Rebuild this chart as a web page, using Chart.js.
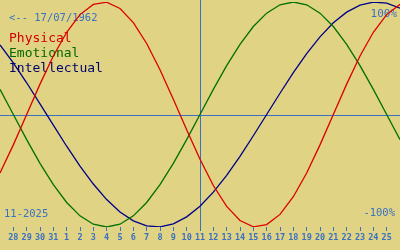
<!DOCTYPE html>
<html>
<head>
<meta charset="utf-8">
<script src="https://cdn.jsdelivr.net/npm/chart.js@4/dist/chart.umd.min.js"></script>
<style>
  html, body { margin: 0; padding: 0; background: #e0d384; }
  canvas { display: block; }
</style>
</head>
<body>
<canvas id="bio" width="400" height="250"></canvas>
<script>
  // dias desde el 27/10/2025 hasta el 26/11/2025
  let dias = [0,1,2,3,4,5,6,7,8,9,10,11,12,13,14,15,16,17,18,19,20,21,22,23,24,25,26,27,28,29,30];
  let fisico = [-0.520,-0.270,0,0.270,0.520,0.731,0.888,0.979,0.998,0.942,0.817,0.631,0.398,0.136,-0.136,-0.398,
    -0.631,-0.817,-0.942,-0.998,-0.979,-0.888,-0.731,-0.520,-0.270,0,0.270,0.520,0.731,0.888,0.979];
  let emocional = [0.223,0,-0.223,-0.434,-0.624,-0.782,-0.901,-0.975,-1,-0.975,-0.901,-0.782,-0.624,-0.434,-0.223,0,
    0.223,0.434,0.624,0.782,0.901,0.975,1,0.975,0.901,0.782,0.624,0.434,0.223,0,-0.223];
  let intelectual = [0.618,0.458,0.282,0.095,-0.095,-0.282,-0.458,-0.618,-0.756,-0.866,-0.945,-0.990,-0.999,-0.972,-0.910,-0.815,
    -0.690,-0.541,-0.372,-0.189,0,0.189,0.372,0.541,0.690,0.815,0.910,0.972,0.999,0.990,0.945];
  let diasTicks = [1,2,3,4,5,6,7,8,9,10,11,12,13,14,15,16,17,18,19,20,21,22,23,24,25,26,27,28,29];
  let etiquetas = ["28","29","30","31","1","2","3","4","5","6","7","8","9","10","11","12","13","14","15","16","17","18","19","20","21","22","23","24","25"];
  let hoy = 15;

  let azul = "#3a70c4";
  let mono = '"DejaVu Sans Mono", monospace';

  function serie(valores){
    return dias.map((d, i) => ({x: d, y: valores[i]}));
  }

  let textos = {
    id: 'textos',
    beforeDatasetsDraw(chart){
      let ctx = chart.ctx;
      let xs = chart.scales.x, ys = chart.scales.y;
      ctx.save();
      // ejes
      ctx.strokeStyle = azul;
      ctx.lineWidth = 1;
      let y0 = Math.round(ys.getPixelForValue(0)) + 0.5;
      let xh = Math.round(xs.getPixelForValue(hoy)) + 0.5;
      ctx.beginPath();
      ctx.moveTo(0, y0); ctx.lineTo(400, y0);
      ctx.moveTo(xh, 0); ctx.lineTo(xh, chart.chartArea.bottom + 4);
      ctx.stroke();

      ctx.textBaseline = 'alphabetic';
      ctx.fillStyle = azul;
      ctx.font = '10.5px ' + mono;
      ctx.textAlign = 'left';
      ctx.fillText('<-- 17/07/1962', 9, 21);
      ctx.fillText('11-2025', 4, 217);
      ctx.textAlign = 'right';
      ctx.fillText('-100%', 395, 216);
      ctx.font = '11px ' + mono;
      ctx.fillText('100%', 397, 17);

      ctx.textAlign = 'left';
      ctx.font = '13px ' + mono;
      ctx.fillStyle = '#d00000'; ctx.fillText('Physical', 9, 42);
      ctx.fillStyle = '#006a00'; ctx.fillText('Emotional', 9, 57);
      ctx.fillStyle = '#00006e'; ctx.fillText('Intellectual', 9, 72);
      ctx.restore();
    }
  };

  new Chart(document.getElementById("bio"), {
    type: 'line',
    data: {
      datasets: [
        {label: 'Physical', data: serie(fisico), borderColor: '#dc0000'},
        {label: 'Emotional', data: serie(emocional), borderColor: '#007000'},
        {label: 'Intellectual', data: serie(intelectual), borderColor: '#000088'}
      ]
    },
    options: {
      responsive: false,
      animation: false,
      layout: {padding: {top: 2, left: 0, right: 0, bottom: 0}},
      elements: {
        line: {borderWidth: 1.3, tension: 0},
        point: {radius: 0}
      },
      plugins: {legend: {display: false}, tooltip: {enabled: false}},
      scales: {
        x: {
          type: 'linear', min: 0, max: 30,
          afterBuildTicks: s => { s.ticks = diasTicks.map(v => ({value: v})); },
          afterFit: s => { s.height = 23; },
          ticks: {
            autoSkip: false, maxRotation: 0, padding: 2,
            color: azul,
            font: {family: mono, size: 8.5, weight: 'bold'},
            callback: (v, i) => etiquetas[i]
          },
          grid: {drawOnChartArea: false, drawTicks: true, tickLength: 4, color: azul},
          border: {display: false}
        },
        y: {display: false, min: -1, max: 1}
      }
    },
    plugins: [textos]
  });
</script>
</body>
</html>
